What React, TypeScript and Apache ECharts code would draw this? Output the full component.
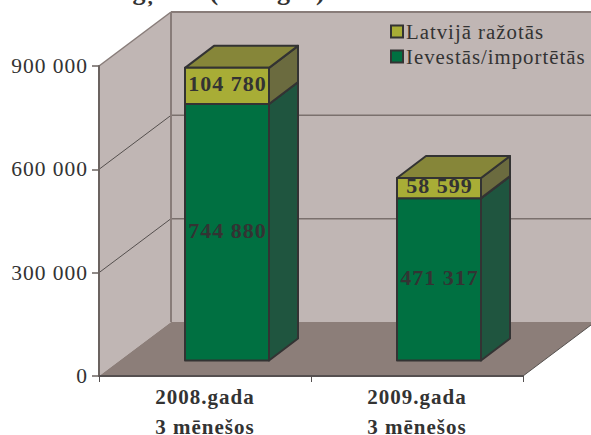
import React, { useEffect, useRef } from "react";
import * as echarts from "echarts";

const categories = ["2008.gada\n3 mēnešos", "2009.gada\n3 mēnešos"];
const imported = [744880, 471317];
const local = [104780, 58599];
const importedName = "Ievestās/importētās";
const localName = "Latvijā ražotās";
const yTicks = [0, 300000, 600000, 900000];
const titleText = "Pastas ogļotes (to sugas)";

const FONT = "'Liberation Serif', 'Times New Roman', serif";
const INK = "#333333";
const LEFT = 99, RIGHT = 523, TOP = 66, BOTTOM = 376;
const WALL_DX = 72, WALL_DY = 54;
const BAR_DX = 22, BAR_DY = 15.5, BAR_HALF = 42, DEPTH_X = 29, DEPTH_Y = 22;

const fmt = (v: number) => String(v).replace(/\B(?=(\d{3})+$)/g, " ");

function barItem(front: string, side: string, top: string, labelDy: number) {
  return (_params: any, api: any) => {
    const idx = api.value(0);
    const base = api.value(1);
    const end = api.value(2);
    const pb = api.coord([idx, base]);
    const pe = api.coord([idx, end]);
    const x0 = pb[0] + BAR_DX - BAR_HALF;
    const x1 = pb[0] + BAR_DX + BAR_HALF;
    const y0 = pb[1] - BAR_DY;
    const y1 = pe[1] - BAR_DY;
    const line = { stroke: INK, lineWidth: 2, lineJoin: "round" };
    return {
      type: "group",
      children: [
        { type: "polygon", shape: { points: [[x1, y0], [x1 + DEPTH_X, y0 - DEPTH_Y], [x1 + DEPTH_X, y1 - DEPTH_Y], [x1, y1]] }, style: { fill: side, ...line } },
        { type: "polygon", shape: { points: [[x0, y1], [x0 + DEPTH_X, y1 - DEPTH_Y], [x1 + DEPTH_X, y1 - DEPTH_Y], [x1, y1]] }, style: { fill: top, ...line } },
        { type: "rect", shape: { x: x0, y: y1, width: x1 - x0, height: y0 - y1 }, style: { fill: front } },
        { type: "text", style: { text: fmt(end - base), x: (x0 + x1) / 2 + 0.5, y: (y0 + y1) / 2 + labelDy, align: "center", verticalAlign: "middle", fill: INK, font: `bold 22px ${FONT}` } },
        { type: "rect", shape: { x: x0, y: y1, width: x1 - x0, height: y0 - y1 }, style: { fill: "none", ...line } },
      ],
    };
  };
}

function wall() {
  const c = "#887c79";
  const back = LEFT + WALL_DX;
  const topY = TOP - WALL_DY;
  const floorY = BOTTOM - WALL_DY;
  const gridYs = [1, 2].map((k) => BOTTOM - (k * (BOTTOM - TOP)) / 3);
  return [
    { type: "polygon", z: -5, shape: { points: [[LEFT, TOP], [back, topY], [back, floorY], [LEFT, BOTTOM]] }, style: { fill: "#c0b6b4" } },
    { type: "rect", z: -5, shape: { x: back, y: topY, width: 591 - back, height: floorY - topY }, style: { fill: "#c0b6b4" } },
    { type: "polygon", z: -4, shape: { points: [[LEFT, BOTTOM], [back, floorY], [591, floorY], [591, BOTTOM - (591 - RIGHT) * (WALL_DY / WALL_DX)], [RIGHT, BOTTOM]] }, style: { fill: "#8c7e79" } },
    ...gridYs.flatMap((y) => [
      { type: "line", z: -3, shape: { x1: LEFT, y1: y, x2: back, y2: y - WALL_DY }, style: { stroke: "#55504e", lineWidth: 1 } },
      { type: "line", z: -3, shape: { x1: back, y1: y - WALL_DY, x2: 591, y2: y - WALL_DY }, style: { stroke: "#7a706d", lineWidth: 1.5 } },
    ]),
    { type: "line", z: -3, shape: { x1: LEFT, y1: TOP, x2: back, y2: topY }, style: { stroke: c, lineWidth: 1.5 } },
    { type: "line", z: -3, shape: { x1: back, y1: topY, x2: 591, y2: topY }, style: { stroke: c, lineWidth: 2 } },
    { type: "line", z: -3, shape: { x1: back, y1: topY, x2: back, y2: floorY }, style: { stroke: c, lineWidth: 2 } },
    { type: "line", z: -3, shape: { x1: RIGHT, y1: BOTTOM, x2: 591, y2: BOTTOM - (591 - RIGHT) * (WALL_DY / WALL_DX) }, style: { stroke: "#55504e", lineWidth: 1 } },
    { type: "text", z: 5, style: { text: titleText, x: 180, y: -9, align: "center", verticalAlign: "middle", fill: INK, font: `bold 26px ${FONT}` } },
  ];
}

export default function App() {
  const ref = useRef<HTMLDivElement>(null);
  useEffect(() => {
    const chart = echarts.init(ref.current!, undefined, { renderer: "svg" });
    chart.setOption({
      animation: false,
      backgroundColor: "#ffffff",
      textStyle: { fontFamily: FONT },
      grid: { left: LEFT, right: 591 - RIGHT, top: TOP, bottom: 435 - BOTTOM, outerBoundsMode: "none" },
      legend: {
        orient: "vertical",
        left: 385,
        top: 16,
        itemWidth: 12,
        itemHeight: 12,
        itemGap: 4,
        icon: "rect",
        data: [localName, importedName],
        textStyle: { fontFamily: FONT, fontSize: 20.8, color: INK, padding: [0, 0, 0, -2] },
      },
      xAxis: {
        type: "category",
        data: categories,
        axisLine: { lineStyle: { color: "#555050", width: 2 } },
        axisTick: { show: true, length: 6, lineStyle: { color: "#555050", width: 1 } },
        axisLabel: { fontFamily: FONT, fontWeight: "bold", fontSize: 21, color: INK, lineHeight: 30, margin: 6 },
      },
      yAxis: {
        type: "value",
        min: 0,
        max: yTicks[yTicks.length - 1],
        interval: yTicks[1],
        splitLine: { show: false },
        axisLine: { show: true, lineStyle: { color: "#6b6360", width: 2 } },
        axisTick: { show: true, length: 7, lineStyle: { color: "#6b6360", width: 1.5 } },
        axisLabel: { formatter: (v: number) => fmt(v), fontFamily: FONT, fontSize: 21.5, color: INK, margin: 11, padding: [0, 0, 4, 0] },
      },
      graphic: wall(),
      series: [
        {
          name: importedName,
          type: "custom",
          renderItem: barItem("#007041", "#1f553f", "#1f553f", -2),
          itemStyle: { color: "#007041", borderColor: INK, borderWidth: 2 },
          encode: { x: 0, y: 2 },
          data: imported.map((v, i) => [i, 0, v]),
        },
        {
          name: localName,
          type: "custom",
          renderItem: barItem("#a8ad36", "#6b6b3f", "#868639", -2.5),
          itemStyle: { color: "#a8ad36", borderColor: INK, borderWidth: 2 },
          encode: { x: 0, y: 2 },
          data: local.map((v, i) => [i, imported[i], imported[i] + v]),
        },
      ],
    });
    return () => chart.dispose();
  }, []);
  return (
    <>
      <style>{`html,body{margin:0;background:#fff} svg text{letter-spacing:1px}`}</style>
      <div ref={ref} style={{ position: "absolute", left: 0, top: 0, width: 591, height: 435 }} />
    </>
  );
}
